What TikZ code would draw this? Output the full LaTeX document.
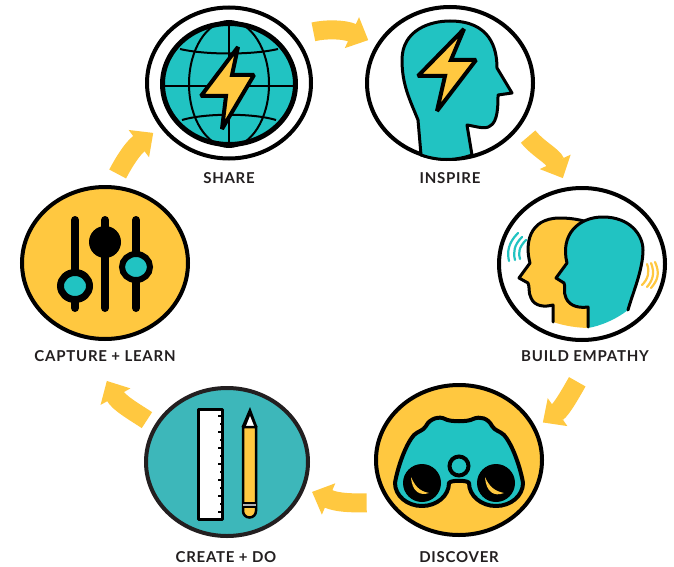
\documentclass[tikz,border=0pt]{standalone}
\usepackage{fontspec}
\setmainfont{Lato}[LetterSpace=5]
\usetikzlibrary{shapes.geometric,arrows.meta}
\definecolor{tealfill}{HTML}{21C3C2}
\definecolor{tealdeep}{HTML}{3DB7BA}
\definecolor{sunfill}{HTML}{FFC840}
\definecolor{inkdark}{HTML}{231F20}
\tikzset{
        stagenode/.style={ellipse,draw=black,line width=4pt,inner sep=0pt},
        stagelabel/.style={font=\fontsize{15}{17}\selectfont\bfseries,text=inkdark,inner sep=0pt},
        flowarrow/.style={draw=sunfill,line width=19pt,-{Triangle[width=33pt,length=18pt]}},
        iconline/.style={draw=black,line width=3pt,line join=round},
        gridline/.style={draw=black,line width=2pt},
        boltshape/.style={draw=black,fill=sunfill,line width=4pt,line join=miter,miter limit=2},
        wave/.style={line width=2.2pt,line cap=round},
}
\begin{document}
\begin{tikzpicture}[x=1pt,y=-1pt]
        \useasboundingbox (0,0) rectangle (674,567);
        \node[stagenode,fill=white,minimum width=164pt,minimum height=151pt] (share) at (229,83) {};
        \node[stagenode,fill=white,minimum width=166pt,minimum height=152pt] (inspire) at (450,83) {};
        \node[stagenode,fill=white,minimum width=166pt,minimum height=152pt] (empathy) at (582,264) {};
        \node[stagenode,fill=sunfill,minimum width=166pt,minimum height=150pt] (discover) at (459,460) {};
        \node[stagenode,fill=tealdeep,draw=inkdark,minimum width=162pt,minimum height=148pt] (create) at (227,462) {};
        \node[stagenode,fill=sunfill,minimum width=166pt,minimum height=152pt] (capture) at (105,263) {};
        \node[stagelabel] (sharelabel) at (229,178) {SHARE};
        \node[stagelabel] (inspirelabel) at (450,178) {INSPIRE};
        \node[stagelabel] (empathylabel) at (585,356) {BUILD EMPATHY};
        \node[stagelabel] (discoverlabel) at (459,557) {DISCOVER};
        \node[stagelabel] (createlabel) at (226,557) {CREATE + DO};
        \node[stagelabel] (capturelabel) at (105,356) {CAPTURE + LEARN};

        % globe
        \node[ellipse,draw=black,fill=tealfill,line width=5pt,minimum width=133pt,minimum height=121pt,inner sep=0pt] (globe) at (229,84) {};
        \draw[gridline] (229,21) -- (229,147);
        \draw[gridline] (160,86) -- (298,86);
        \draw[gridline] (229,84) ellipse [x radius=40,y radius=63];
        \draw[gridline] (180,49) .. controls (205,55) and (253,55) .. (278,49);
        \draw[gridline] (182,120) .. controls (205,113) and (253,113) .. (276,120);
        \draw[boltshape] (238,47) -- (201,96) -- (226,96) -- (222,129) -- (254,75) -- (232,75) -- cycle;

        % head with bolt
        \draw[iconline,fill=tealfill] (421,155) -- (418,120) .. controls (410,100) and (402,85) .. (402,60)
                .. controls (402,30) and (430,21) .. (450,21) .. controls (490,21) and (497,48) .. (497,68)
                -- (512,93) -- (498,95) .. controls (498,105) and (498,122) .. (490,126)
                .. controls (485,130) and (475,126) .. (467,125) -- (472,155)
                .. controls (455,161) and (438,161) .. (421,155) -- cycle;
        \draw[boltshape] (464,29) -- (418,76) -- (445,76) -- (437,111) -- (476,60) -- (451,60) -- cycle;

        % two heads
        \path[fill=sunfill] (553,322) -- (553,305) -- (540,307) -- (530,297) -- (528,283) -- (519,278) -- (530,263)
                .. controls (525,245) and (528,218) .. (560,218) -- (600,225) -- (590,328)
                .. controls (578,328) and (565,326) .. (553,322) -- cycle;
        \draw[iconline,line cap=round] (553,322) -- (553,305) .. controls (545,307) and (535,307) .. (531,298)
                .. controls (528,292) and (530,287) .. (528,283) -- (519,278) -- (530,263)
                .. controls (525,245) and (528,218) .. (560,218) .. controls (568,218) and (576,219) .. (584,221);
        \path[fill=tealfill] (588,328) -- (588,307) -- (575,307) -- (565,297) -- (564,283) -- (556,278) -- (567,263)
                .. controls (560,235) and (578,217) .. (603,217) .. controls (630,217) and (643,235) .. (643,250)
                .. controls (643,270) and (632,295) .. (628,310) .. controls (615,320) and (600,326) .. (588,328) -- cycle;
        \draw[iconline,line cap=round] (588,327) -- (588,307) .. controls (580,308) and (570,307) .. (566,298)
                .. controls (563,292) and (566,287) .. (564,283) -- (556,278) -- (567,263)
                .. controls (560,235) and (578,217) .. (603,217) .. controls (630,217) and (643,235) .. (643,250)
                .. controls (643,270) and (632,295) .. (628,310);
        \draw[wave,tealfill] (518,233) .. controls (508,243) and (507,252) .. (509,261);
        \draw[wave,tealfill] (522,237) .. controls (514,245) and (513,252) .. (515,260);
        \draw[wave,tealfill] (526,240) .. controls (519,247) and (518,253) .. (520,259);
        \draw[wave,sunfill] (655,262) .. controls (660,273) and (658,280) .. (651,288);
        \draw[wave,sunfill] (651,263) .. controls (655,273) and (653,280) .. (647,287);
        \draw[wave,sunfill] (647,264) .. controls (650,272) and (648,279) .. (642,285);

        % binoculars
        \draw[iconline,line width=4pt,fill=tealfill] (395,483) .. controls (397,470) and (405,445) .. (414,435)
                .. controls (418,431) and (423,431) .. (426,426) .. controls (430,418) and (440,416) .. (445,419)
                .. controls (450,422) and (468,422) .. (473,419) .. controls (480,416) and (488,418) .. (492,426)
                .. controls (495,431) and (500,431) .. (504,435) .. controls (513,445) and (521,470) .. (523,483)
                arc [start angle=0,end angle=180,x radius=27,y radius=23]
                .. controls (468,480) and (450,480) .. (449,483)
                arc [start angle=0,end angle=180,x radius=27,y radius=23] -- cycle;
        \node[circle,fill=black,minimum size=38pt,inner sep=0pt] (leftlens) at (422,483) {};
        \node[circle,fill=black,minimum size=38pt,inner sep=0pt] (rightlens) at (496,483) {};
        \node[circle,draw=black,fill=tealfill,line width=4pt,minimum size=19pt,inner sep=0pt] (hub) at (459,466) {};
        \fill[sunfill] (411,477) .. controls (412,492) and (420,496) .. (429,493) .. controls (419,491) and (415,486) .. (411,477) -- cycle;
        \fill[sunfill] (485,477) .. controls (486,492) and (494,497) .. (504,493) .. controls (494,491) and (489,486) .. (485,477) -- cycle;

        % ruler and pencil
        \draw[iconline,fill=white] (198,409) rectangle (222,519);
        \foreach \i in {0,...,12} {
                \pgfmathsetmacro{\tickx}{mod(\i,2)==0 ? 218 : 220}
                \draw[line width=2pt] (222,{416+8*\i}) -- (\tickx,{416+8*\i});
        }
        \fill[black] (241.5,427) -- (250,407) -- (257.5,427) -- cycle;
        \fill[white] (246,426) -- (250,416) -- (254,426) -- cycle;
        \draw[line width=2.5pt,fill=sunfill] (243,427) -- (256,427) -- (256,511) arc [start angle=0,end angle=180,radius=6.5] -- cycle;
        \fill[gray!60] (243,503) rectangle (256,507);
        \draw[line width=1.2pt] (243,503) -- (256,503);
        \draw[line width=1.2pt] (243,507) -- (256,507);

        % sliders
        \foreach \i in {75,105,136} {
                \draw[line width=8pt,line cap=round] (\i,220) -- (\i,308);
        }
        \draw[line width=7pt,fill=tealfill] (75,286) ellipse [x radius=14.5,y radius=13.5];
        \fill[black] (105,242) circle (16);
        \draw[line width=6pt,fill=tealfill] (136,267) ellipse [x radius=14,y radius=13];

        % connectors
        \draw[flowarrow,shorten <=18pt,shorten >=9pt] (share.35) .. controls (325,29) and (344,29) .. (inspire.152);
        \draw[flowarrow,shorten <=12.5pt,shorten >=10pt] (inspire.-32) .. controls (539,150) and (552,155) .. (empathy.101);
        \draw[flowarrow,shorten <=48pt,shorten >=8.4pt] (empathy.-76) .. controls (572,391) and (562,409) .. (discover.23);
        \draw[flowarrow,shorten <=21.5pt,shorten >=8pt] (discover.211) .. controls (352,503) and (338,503) .. (create.-19);
        \draw[flowarrow,shorten <=9pt,shorten >=48.5pt] (create.153) .. controls (133,411) and (119,403) .. (capture.-106);
        \draw[flowarrow,shorten <=12.7pt,shorten >=8.8pt] (capture.85) .. controls (125,160) and (133,148) .. (share.213);
\end{tikzpicture}
\end{document}
